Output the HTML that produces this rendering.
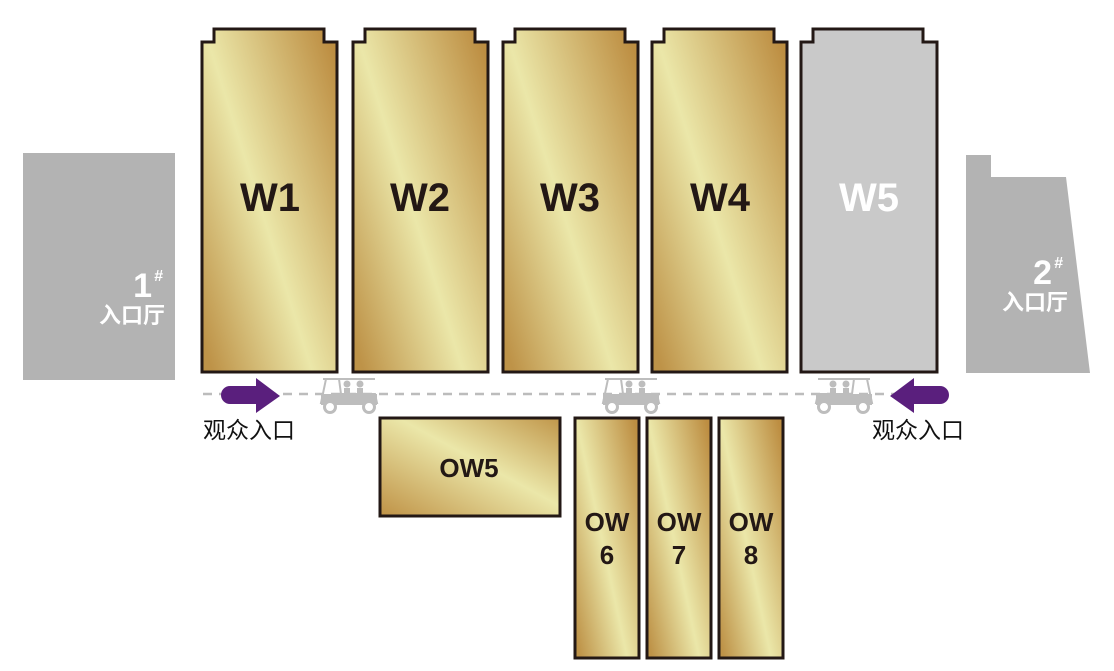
<!DOCTYPE html>
<html><head><meta charset="utf-8"><style>html,body{margin:0;padding:0;background:#fff}svg{display:block}</style></head>
<body>
<svg width="1114" height="671" viewBox="0 0 1114 671" xmlns="http://www.w3.org/2000/svg" font-family="Liberation Sans, Noto Sans CJK SC, sans-serif">
<defs>
<linearGradient id="g" x1="1" y1="0.1" x2="0" y2="0.9">
<stop offset="0" stop-color="#bd8e42"/><stop offset="0.55" stop-color="#ebe7a9"/><stop offset="1" stop-color="#be9348"/>
</linearGradient>
<linearGradient id="gh" x1="0" y1="1" x2="1" y2="0">
<stop offset="0" stop-color="#bf9246"/><stop offset="0.55" stop-color="#ebe7a9"/><stop offset="1" stop-color="#c0964a"/>
</linearGradient>
<g id="cart" fill="#bdbdbd" stroke="#bdbdbd">
<path d="M4,2 H56" stroke-width="2" fill="none"/>
<path d="M7,2 L2,26 H58 L56,17 H22 L20,2" stroke-width="2" fill="none"/>
<rect x="2" y="17" width="56" height="11" stroke="none"/>
<circle cx="11" cy="30" r="5.5" fill="#fff" stroke-width="3"/>
<circle cx="50" cy="30" r="5.5" fill="#fff" stroke-width="3"/>
<circle cx="28" cy="7" r="3.5" stroke="none"/><circle cx="41" cy="7" r="3.5" stroke="none"/>
<rect x="25" y="11" width="6" height="11" stroke="none"/><rect x="38" y="11" width="6" height="11" stroke="none"/>
</g>
</defs>
<rect x="23" y="153" width="152" height="227" fill="#b3b3b3"/>
<text x="152" y="297" fill="#fff" font-size="34" font-weight="bold" text-anchor="end">1</text>
<text x="154" y="281" fill="#fff" font-size="16" font-weight="bold" font-style="italic">#</text>
<text x="165" y="323" fill="#fff" font-size="22" font-weight="bold" text-anchor="end">入口厅</text>
<polygon points="966,155 991,155 991,177 1066,177 1090,373 966,373" fill="#b3b3b3"/>
<text x="1052" y="284" fill="#fff" font-size="34" font-weight="bold" text-anchor="end">2</text>
<text x="1054" y="268" fill="#fff" font-size="16" font-weight="bold" font-style="italic">#</text>
<text x="1068" y="310" fill="#fff" font-size="22" font-weight="bold" text-anchor="end">入口厅</text>
<g stroke="#231815" stroke-width="3">
<path d="M202,42 H214 V29 H324 V42 H337 V372 H202 Z" fill="url(#g)"/>
<path d="M353,42 H365 V29 H475 V42 H488 V372 H353 Z" fill="url(#g)"/>
<path d="M503,42 H515 V29 H625 V42 H638 V372 H503 Z" fill="url(#g)"/>
<path d="M652,42 H664 V29 H774 V42 H787 V372 H652 Z" fill="url(#g)"/>
<path d="M801,42 H813 V29 H923 V42 H937 V372 H801 Z" fill="#c9c9c9"/>
<rect x="380" y="418" width="180" height="98" fill="url(#gh)"/>
<rect x="575" y="418" width="64" height="240" fill="url(#g)"/>
<rect x="647" y="418" width="64" height="240" fill="url(#g)"/>
<rect x="719" y="418" width="64" height="240" fill="url(#g)"/>
</g>
<g font-size="40" font-weight="bold" fill="#231815" text-anchor="middle">
<text x="270" y="211">W1</text><text x="420" y="211">W2</text><text x="570" y="211">W3</text><text x="720" y="211">W4</text>
<text x="869" y="211" fill="#fff">W5</text>
</g>
<g font-size="26" font-weight="bold" fill="#231815" text-anchor="middle">
<text x="469" y="477">OW5</text>
<text x="607" y="531">OW</text><text x="607" y="564">6</text>
<text x="679" y="531">OW</text><text x="679" y="564">7</text>
<text x="751" y="531">OW</text><text x="751" y="564">8</text>
</g>
<line x1="203" y1="394" x2="945" y2="394" stroke="#bcbcbc" stroke-width="2.5" stroke-dasharray="9,7"/>
<use href="#cart" x="319" y="377"/>
<use href="#cart" x="601" y="377"/>
<use href="#cart" transform="translate(874,377) scale(-1,1)"/>
<path d="M230,386 H256 V378 L280,396 L256,413 V404 H230 A9,9 0 0 1 230,386 Z" fill="#5a1f7d"/>
<path d="M940,386 H914 V378 L890,396 L914,413 V404 H940 A9,9 0 0 0 940,386 Z" fill="#5a1f7d"/>
<text x="203" y="438" font-size="23" fill="#111">观众入口</text>
<text x="872" y="438" font-size="23" fill="#111">观众入口</text>
</svg>
</body></html>
